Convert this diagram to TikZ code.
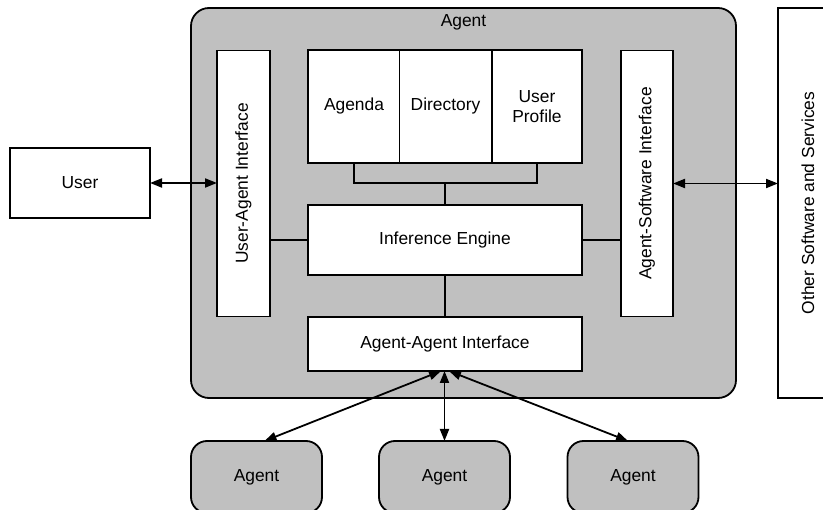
\documentclass[tikz,border=0pt]{standalone}
\usepackage{fontspec}
\setmainfont{Liberation Sans}
\usepackage{graphicx}
\usetikzlibrary{arrows.meta}
\begin{document}
\begin{tikzpicture}[x=1pt, y=-1pt, line width=1.8pt,
  every node/.style={font=\fontsize{17.4}{20}\selectfont},
  box/.style={draw, fill=white, outer sep=0pt, align=center},
  agentbox/.style={draw, fill=agentgrey, rounded corners=16pt, outer sep=0pt},
  dbl/.style={{Triangle[length=12pt,width=9pt]}-{Triangle[length=12pt,width=9pt]}}]
\definecolor{agentgrey}{HTML}{C0C0C0}
\useasboundingbox[fill=white] (0,0) rectangle (823,510);
% the agent itself
\node[agentbox, rounded corners=18pt, minimum width=545pt, minimum height=390pt] (agent) at (463.5,203) {};
\node (agenttitle) at (463.5,22) {Agent};
% outside parties
\node[box, minimum width=140pt, minimum height=70pt] (user) at (80,183) {User};
\node[box, minimum width=60pt, minimum height=390pt] (oss) at (808,203) {\rotatebox{90}{Other Software and Services}};
% interfaces
\node[box, minimum width=53pt, minimum height=266pt] (uai) at (243.5,183.5) {\rotatebox{90}{User-Agent Interface}};
\node[box, minimum width=52pt, minimum height=266pt] (asi) at (647,183.5) {\rotatebox{90}{Agent-Software Interface}};
\node[box, minimum width=274pt, minimum height=54pt] (aai) at (445,344) {Agent-Agent Interface};
% knowledge
\node[box, minimum width=92pt, minimum height=113pt] (agenda) at (354,106.5) {Agenda};
\node[box, minimum width=92pt, minimum height=113pt] (directory) at (445.5,106.5) {Directory};
\node[box, minimum width=90pt, minimum height=113pt] (profile) at (537,106.5) {User\\Profile};
\node[box, minimum width=274pt, minimum height=70pt] (ie) at (445,240) {Inference Engine};
% other agents
\node[agentbox, minimum width=131pt, minimum height=72pt] (ag1) at (256.5,477) {Agent};
\node[agentbox, minimum width=131pt, minimum height=72pt] (ag2) at (444.5,477) {Agent};
\node[agentbox, minimum width=131pt, minimum height=72pt] (ag3) at (633,477) {Agent};
% links inside
\draw (agenda.south) -- ++(0,20) coordinate (bl) -| (profile.south);
\draw (ie.north) -- (ie.north |- bl);
\draw (uai.east |- ie.west) -- (ie.west);
\draw (ie.east) -- (ie.east -| asi.west);
\draw (ie.south) -- (aai.north);
% links outside
\draw[dbl] (user.east) -- (user.east -| uai.west);
\draw[dbl] (asi.east) -- (asi.east -| oss.west);
\draw[dbl] ([xshift=8pt]ag1.north) -- ([xshift=-4pt]aai.south);
\draw[dbl] (ag2.north) -- (ag2.north |- aai.south);
\draw[dbl] ([xshift=-5pt]ag3.north) -- ([xshift=4pt]aai.south);
\end{tikzpicture}
\end{document}
